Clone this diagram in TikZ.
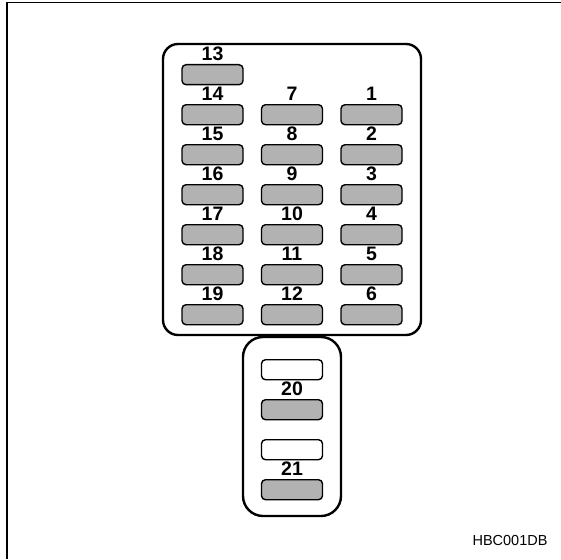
\documentclass[tikz,border=0pt]{standalone}
\usepackage{fontspec}
\setmainfont{Liberation Sans}
\begin{document}
\begin{tikzpicture}[x=1pt,y=-1pt,
  fuse/.style={draw=black,line width=1.4pt,fill=fusegray,rounded corners=4pt,minimum width=61pt,minimum height=20pt,inner sep=0pt,anchor=north},
  blank/.style={fuse,fill=white},
  lbl/.style={font=\bfseries\fontsize{19.5}{20}\selectfont,inner sep=0pt},
  housing/.style={draw=black,line width=2.4pt}]
\definecolor{fusegray}{gray}{0.70}
\useasboundingbox (0,0) rectangle (561,559);
\draw[line width=1.5pt] (7,559) -- (7,2.5) -- (561,2.5);
\draw[housing,rounded corners=15pt] (163,44) rectangle (421,335);
\draw[housing,rounded corners=20pt] (243,337) rectangle (341,516);
% column 1
\foreach \n/\r in {13/0,14/1,15/2,16/3,17/4,18/5,19/6}{
  \node[fuse] (f\n) at (212.5,64+40*\r) {};
  \node[lbl] (l\n) at (212.5,54+40*\r) {\n};
}
% column 2
\foreach \n/\r in {7/1,8/2,9/3,10/4,11/5,12/6}{
  \node[fuse] (f\n) at (292,64+40*\r) {};
  \node[lbl] (l\n) at (292,54+40*\r) {\n};
}
% column 3
\foreach \n/\r in {1/1,2/2,3/3,4/4,5/5,6/6}{
  \node[fuse] (f\n) at (371.5,64+40*\r) {};
  \node[lbl] (l\n) at (371.5,54+40*\r) {\n};
}
% lower block
\node[blank] (w20) at (292,359) {};
\node[fuse] (f20) at (292,399) {};
\node[lbl] (l20) at (292,389) {20};
\node[blank] (w21) at (292,439) {};
\node[fuse] (f21) at (292,479) {};
\node[lbl] (l21) at (292,469) {21};
\node[font=\fontsize{14.5}{16}\selectfont,inner sep=0pt] (code) at (510,540.5) {HBC001DB};
\end{tikzpicture}
\end{document}
